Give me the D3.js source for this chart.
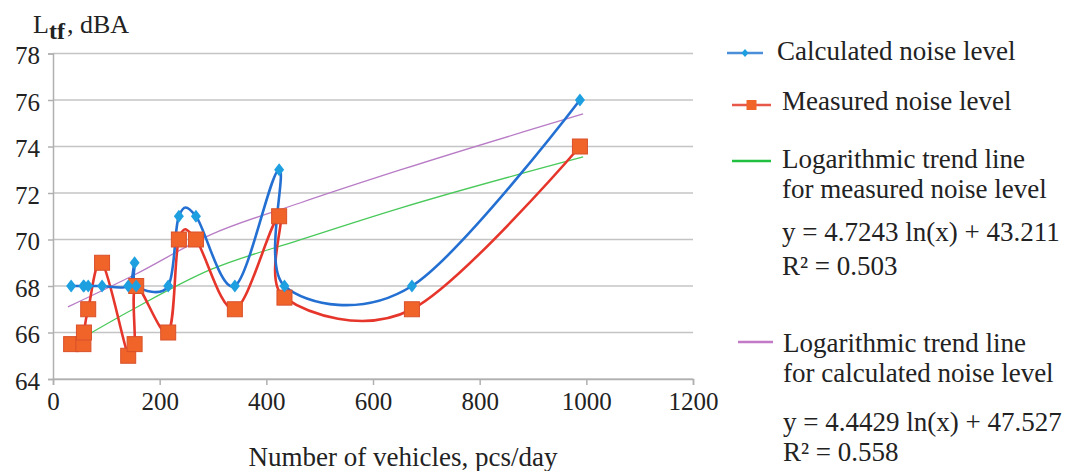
<!DOCTYPE html>
<html>
<head>
<meta charset="utf-8">
<script src="https://cdn.jsdelivr.net/npm/d3@7"></script>
<style>
  body { margin: 0; background: #fff; }
  svg { display: block; font-family: "Liberation Serif", "Times New Roman", serif; }
  svg text { font-family: "Liberation Serif", "Times New Roman", serif; }
</style>
</head>
<body>
<svg id="chart" width="1075" height="471"></svg>
<script>
// values
const vehicles   = [34, 57, 58, 66, 92, 141, 153, 156, 216, 236, 268, 341, 424, 434, 673, 988];
const calculated = [68, 68, 68, 68, 68, 68, 69, 68, 68, 71, 71, 68, 73, 68, 68, 76];
const measured   = [65.5, 65.5, 66, 67, 69, 65, 65.5, 68, 66, 70, 70, 67, 71, 67.5, 67, 74];

// trend lines as drawn (read at a few x positions)
const trendMeasX = [26, 150, 294, 463, 651, 994];
const trendMeasY = [65.38, 67.0, 68.69, 69.98, 71.35, 73.55];
const trendCalcX = [28, 150, 294, 463, 651, 994];
const trendCalcY = [67.1, 68.45, 70.19, 71.57, 72.99, 75.4];

const xTicks = [0, 200, 400, 600, 800, 1000, 1200];
const yTicks = [64, 66, 68, 70, 72, 74, 76, 78];

const svg = d3.select("#chart");
const x = d3.scaleLinear().domain([0, 1200]).range([53, 693]);
const y = d3.scaleLinear().domain([64, 78]).range([379, 53.5]);

// gridlines
svg.append("g")
  .selectAll("line")
  .data(yTicks)
  .enter().append("line")
  .attr("x1", x(0)).attr("x2", x(1200))
  .attr("y1", d => y(d)).attr("y2", d => y(d))
  .attr("stroke", "#c4c4c4").attr("stroke-width", 1.6);

// axes
const yAxis = svg.append("g")
  .attr("transform", `translate(${x(0)},0)`)
  .call(d3.axisLeft(y).tickValues(yTicks).tickSize(5).tickPadding(8));
const xAxis = svg.append("g")
  .attr("transform", `translate(0,${y(64)})`)
  .call(d3.axisBottom(x).tickValues(xTicks).tickFormat(d3.format("d")).tickSize(6).tickPadding(7));
[xAxis, yAxis].forEach(a => {
  a.attr("font-family", "Liberation Serif").attr("font-size", 25);
  a.select(".domain").attr("stroke", "#b0b0b0").attr("stroke-width", 1.5);
  a.selectAll(".tick line").attr("stroke", "#b0b0b0").attr("stroke-width", 1.5);
  a.selectAll("text").style("font-family", "'Liberation Serif', serif").style("font-size", "25px").attr("fill", "#222");
});
yAxis.selectAll("text").attr("dy", "0.4em");

// trend lines
const trend = d3.line().curve(d3.curveMonotoneX).x(d => x(d[0])).y(d => y(d[1]));
svg.append("path")
  .datum(d3.zip(trendMeasX, trendMeasY))
  .attr("d", trend).attr("fill", "none")
  .attr("stroke", "#49c95a").attr("stroke-width", 1.3);
svg.append("path")
  .datum(d3.zip(trendCalcX, trendCalcY))
  .attr("d", trend).attr("fill", "none")
  .attr("stroke", "#b87cc6").attr("stroke-width", 1.3);

// smoothed series
const smooth = d3.line().curve(d3.curveCardinal.tension(0)).x(d => x(d[0])).y(d => y(d[1]));
const measPts = d3.zip(vehicles, measured);
const calcPts = d3.zip(vehicles, calculated);

svg.append("path").datum(measPts).attr("d", smooth)
  .attr("fill", "none").attr("stroke", "#e6362b").attr("stroke-width", 2.6);
svg.append("path").datum(calcPts).attr("d", smooth)
  .attr("fill", "none").attr("stroke", "#2370d2").attr("stroke-width", 2.6);

svg.append("g").selectAll("rect")
  .data(measPts).enter().append("rect")
  .attr("x", d => x(d[0]) - 7.5).attr("y", d => y(d[1]) - 7.5)
  .attr("width", 15).attr("height", 15)
  .attr("fill", "#f0642a").attr("stroke", "#d9502a").attr("stroke-width", 1);

const diamond = "M0,-6.5L5,0L0,6.5L-5,0Z";
svg.append("g").selectAll("path")
  .data(calcPts).enter().append("path")
  .attr("transform", d => `translate(${x(d[0])},${y(d[1])})`)
  .attr("d", diamond).attr("fill", "#1d9fe0");

// axis titles
const title = svg.append("text").attr("x", 33).attr("y", 33)
  .attr("font-size", 26).attr("fill", "#222");
title.append("tspan").text("L");
title.append("tspan").attr("font-size", 24).attr("font-weight", "bold").attr("dy", 6).text("tf");
title.append("tspan").attr("x", 67).attr("dy", -6).text(", dBA");

svg.append("text").attr("x", 403).attr("y", 466)
  .attr("text-anchor", "middle").attr("font-size", 27).attr("fill", "#222")
  .text("Number of vehicles, pcs/day");

// legend
const legendItems = [
  { color: "#4a8fd8", marker: "diamond", x1: 727, x2: 763, ly: 53, tx: 777, lines: [["Calculated noise level", 60]] },
  { color: "#e8584a", marker: "square", x1: 732, x2: 771, ly: 105, tx: 782, lines: [["Measured noise level", 110]] },
  { color: "#22c040", marker: null, x1: 732, x2: 771, ly: 161, tx: 782,
    lines: [["Logarithmic trend line", 168], ["for measured noise level", 198],
            ["y = 4.7243 ln(x) + 43.211", 241], ["R² = 0.503", 275]] },
  { color: "#c37ac6", marker: null, x1: 738, x2: 773, ly: 342, tx: 783,
    lines: [["Logarithmic trend line", 352], ["for calculated noise level", 382],
            ["y = 4.4429 ln(x) + 47.527", 431], ["R² = 0.558", 461]] }
];
const leg = svg.append("g");
legendItems.forEach(it => {
  leg.append("line").attr("x1", it.x1).attr("x2", it.x2).attr("y1", it.ly).attr("y2", it.ly)
    .attr("stroke", it.color).attr("stroke-width", 2.5);
  const cx = (it.x1 + it.x2) / 2;
  if (it.marker === "diamond") {
    leg.append("path").attr("transform", `translate(${cx},${it.ly})`)
      .attr("d", "M0,-4L3.5,0L0,4L-3.5,0Z").attr("fill", "#1d9fe0");
  } else if (it.marker === "square") {
    leg.append("rect").attr("x", cx - 5).attr("y", it.ly - 5).attr("width", 10).attr("height", 10)
      .attr("fill", "#f0642a");
  }
  it.lines.forEach(([t, by]) => {
    leg.append("text").attr("x", it.tx).attr("y", by)
      .attr("font-size", 27).attr("fill", "#222").text(t);
  });
});
</script>
</body>
</html>
